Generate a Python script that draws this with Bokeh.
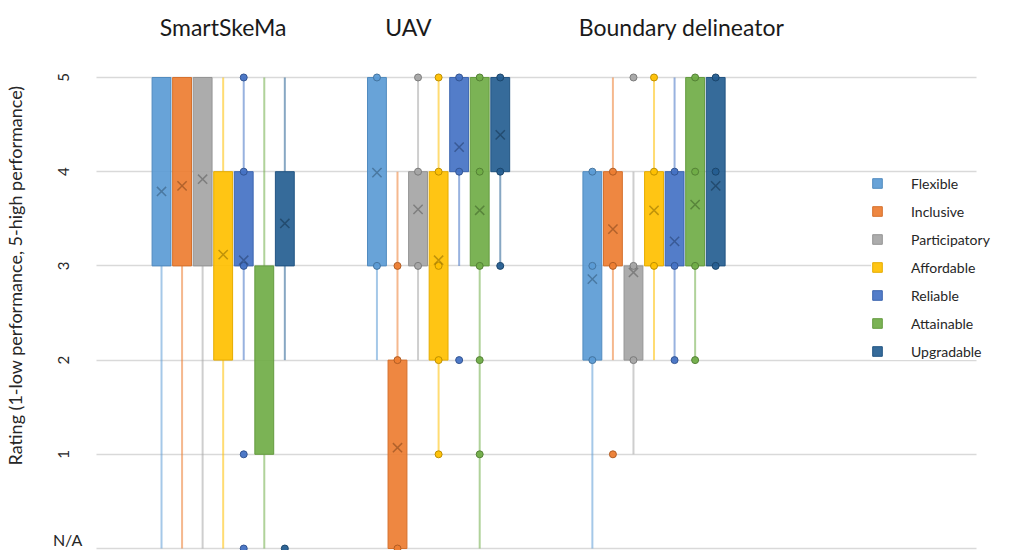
import math
from bokeh.plotting import figure
from bokeh.models import ColumnDataSource, Range1d, FixedTicker, Legend, LegendItem
from bokeh.core.properties import value
from bokeh.embed import file_html
from bokeh.resources import INLINE

# ---------------- data ----------------
tools = ["SmartSkeMa", "UAV", "Boundary delineator"]
criteria = ["Flexible", "Inclusive", "Participatory", "Affordable",
            "Reliable", "Attainable", "Upgradable"]
colors = ["#5B9BD5", "#ED7D31", "#A5A5A5", "#FFC000",
          "#4472C4", "#70AD47", "#255E91"]
y_ticks = [0, 1, 2, 3, 4, 5]
y_tick_labels = ["N/A", "1", "2", "3", "4", "5"]
y_title = "Rating (1-low performance, 5-high performance)"

# rows: tools, columns: criteria
box_low = [
    [3, 3, 3, 2, 3, 1, 3],
    [3, 0, 3, 2, 4, 3, 4],
    [2, 3, 2, 3, 3, 3, 3],
]
box_high = [
    [5, 5, 5, 4, 4, 3, 4],
    [5, 2, 4, 4, 5, 5, 5],
    [4, 4, 3, 4, 4, 5, 5],
]
whisker_low = [
    [0, 0, 0, 0, 2, 0, 2],
    [2, 0, 2, 1, 3, 0, 3],
    [0, 2, 1, 2, 2, 2, 3],
]
whisker_high = [
    [5, 5, 5, 5, 5, 5, 5],
    [5, 4, 5, 5, 5, 5, 5],
    [4, 5, 4, 5, 5, 5, 5],
]
means = [
    [3.79, 3.85, 3.92, 3.12, 3.06, float("nan"), 3.45],
    [3.99, 1.07, 3.60, 3.06, 4.26, 3.59, 4.39],
    [2.86, 3.39, 2.93, 3.59, 3.26, 3.65, 3.85],
]
points = [
    [[], [], [], [], [5, 4, 3, 1, 0], [], [0]],
    [[5, 3], [3, 2, 0], [5, 4, 3], [5, 4, 3, 2, 1], [5, 4, 2], [5, 4, 3, 2, 1], [5, 4, 3]],
    [[4, 3, 2], [4, 3, 1], [5, 3, 2], [5, 4, 3], [4, 3, 2], [5, 4, 3, 2], [5, 4, 3]],
]

# ---------------- layout / style ----------------
FONT = "Lato"
TXT = "#262626"
STEP = 0.0954      # distance between boxes within a group
BOX_W = 0.0876
CAP_W = 0.032
title_shift = [0.0, -0.14, 0.128]
TITLE_Y = 5.54
X_START, X_END = -0.8433, 3.6037
GRID_X0, GRID_X1 = -0.5899, 3.4979
NUM_X = -0.742
NA_X = -0.654


def darker(hexcol, f=0.78):
    h = hexcol.lstrip("#")
    r, g, b = (int(h[i:i + 2], 16) for i in (0, 2, 4))
    return "#%02x%02x%02x" % (int(r * f), int(g * f), int(b * f))


p = figure(width=999, height=550, output_backend="svg", toolbar_location=None,
           x_range=Range1d(X_START, X_END), y_range=Range1d(-0.021, 5.817),
           x_axis_location=None, min_border_left=34, min_border_right=0,
           min_border_top=0, min_border_bottom=0)
p.outline_line_color = None
p.background_fill_color = "white"
p.border_fill_color = "white"
p.xgrid.visible = False
p.ygrid.ticker = FixedTicker(ticks=y_ticks)
p.ygrid.grid_line_color = "#d9d9d9"
p.ygrid.grid_line_width = 1.5
p.ygrid.cross_bounds = (GRID_X0, GRID_X1)

ax = p.yaxis[0]
ax.ticker = FixedTicker(ticks=y_ticks)
ax.major_label_overrides = {t: "" for t in y_ticks}
ax.major_label_standoff = 0
ax.axis_line_color = None
ax.major_tick_line_color = None
ax.minor_tick_line_color = None
ax.axis_label = y_title
ax.axis_label_text_font = FONT
ax.axis_label_text_font_style = "normal"
ax.axis_label_text_font_size = "18px"
ax.axis_label_text_color = TXT
ax.axis_label_standoff = 10

# tick labels: numbers rotated, "N/A" horizontal
num_src = ColumnDataSource(dict(x=[NUM_X] * (len(y_ticks) - 1), y=y_ticks[1:],
                                t=y_tick_labels[1:]))
p.text(x="x", y="y", text="t", source=num_src, angle=math.pi / 2,
       text_align="center", text_baseline="middle", text_font=value(FONT),
       text_font_size="15px", text_color=TXT)
na_src = ColumnDataSource(dict(x=[NA_X], y=y_ticks[:1], t=y_tick_labels[:1]))
p.text(x="x", y="y", text="t", source=na_src, y_offset=0,
       text_align="right", text_baseline="bottom", text_font=value(FONT),
       text_font_size="16px", text_color=TXT)

legend_items = []
series = []
for k, (crit, col) in enumerate(zip(criteria, colors)):
    xs = [g + (k - 3) * STEP for g in range(len(tools))]
    lo = [whisker_low[g][k] for g in range(len(tools))]
    hi = [whisker_high[g][k] for g in range(len(tools))]
    bl = [box_low[g][k] for g in range(len(tools))]
    bh = [box_high[g][k] for g in range(len(tools))]
    src = ColumnDataSource(dict(x=xs, lo=lo, hi=hi, bl=bl, bh=bh,
                                mean=[means[g][k] for g in range(len(tools))]))
    # whiskers
    p.segment(x0="x", y0="lo", x1="x", y1="bl", source=src, line_color=col,
              line_alpha=0.55, line_width=2)
    p.segment(x0="x", y0="bh", x1="x", y1="hi", source=src, line_color=col,
              line_alpha=0.55, line_width=2)
    # caps
    cap_lo = ColumnDataSource(dict(x=[x for x, a, b in zip(xs, lo, bl) if a < b],
                                   y=[a for a, b in zip(lo, bl) if a < b]))
    cap_hi = ColumnDataSource(dict(x=[x for x, a, b in zip(xs, hi, bh) if a > b],
                                   y=[a for a, b in zip(hi, bh) if a > b]))
    for cs in (cap_lo, cap_hi):
        p.rect(x="x", y="y", width=CAP_W, height=0, source=cs, fill_color=None,
               line_color=col, line_alpha=0.7, line_width=1.5)
    series.append((crit, col, src))

for crit, col, src in series:
    r = p.vbar(x="x", bottom="bl", top="bh", width=BOX_W, source=src,
               fill_color=col, fill_alpha=0.92, line_color=darker(col, 0.9),
               line_width=1)
    legend_items.append(LegendItem(label=crit, renderers=[r]))

for k, (crit, col) in enumerate(zip(criteria, colors)):
    px, py = [], []
    for g in range(len(tools)):
        for v in points[g][k]:
            px.append(g + (k - 3) * STEP)
            py.append(v)
    p.scatter(px, py, marker="circle", size=7, fill_color=col, fill_alpha=0.95,
              line_color=darker(col, 0.75), line_width=1)

for crit, col, src in series:
    p.scatter(x="x", y="mean", source=src, marker="x", size=13,
              line_color=darker(col, 0.55), line_alpha=0.55, line_width=1.5)

# group titles
tsrc = ColumnDataSource(dict(x=[g + s for g, s in zip(range(len(tools)), title_shift)],
                             y=[TITLE_Y] * len(tools), t=tools))
p.text(x="x", y="y", text="t", source=tsrc, text_align="center",
       text_baseline="middle", text_font=value(FONT), text_font_size="23px",
       text_color="#1a1a1a")

legend = Legend(items=legend_items, location=(830, 190), orientation="vertical",
                background_fill_color="white", background_fill_alpha=1.0,
                border_line_color=None, padding=0, margin=0,
                glyph_width=12, glyph_height=12, label_standoff=28, spacing=10,
                label_height=18,
                label_text_font=FONT, label_text_font_size="14px",
                label_text_color=TXT)
p.add_layout(legend)

open("out.html", "w").write(file_html(p, INLINE))
